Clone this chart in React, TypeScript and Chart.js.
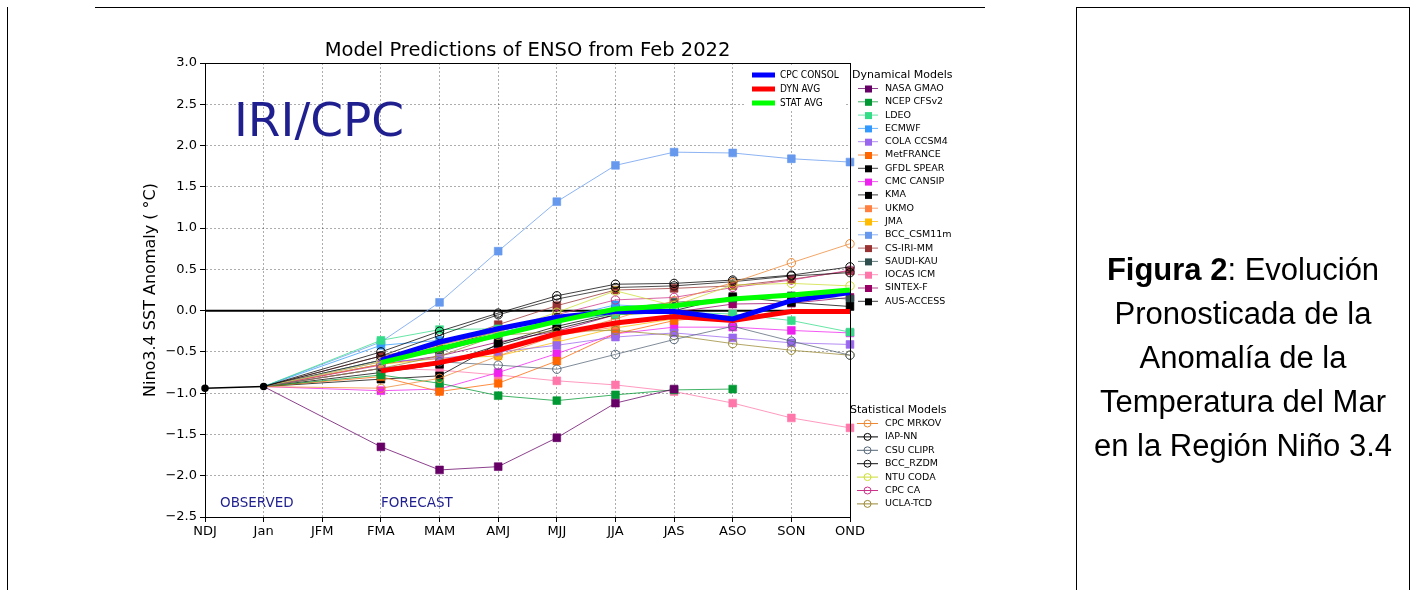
import React, { useEffect, useRef } from 'react';
import { Chart, registerables } from 'chart.js';
Chart.register(...registerables);

// ---------- DATA ----------
const categories = ['NDJ', 'Jan', 'JFM', 'FMA', 'MAM', 'AMJ', 'MJJ', 'JJA', 'JAS', 'ASO', 'SON', 'OND'];
const observedValues = [-0.94, -0.92];
const yMin = -2.5;
const yMax = 3.0;
const yStep = 0.5;

// forecasts FMA .. OND
const nasaGmao = [-1.65, -1.93, -1.89, -1.54, -1.12, -0.95, null, null, null];
const ncepCfsv2 = [-0.78, -0.88, -1.03, -1.09, -1.02, -0.96, -0.95, null, null];
const ldeo = [-0.36, -0.23, -0.22, -0.12, -0.05, -0.02, -0.04, -0.12, -0.26];
const ecmwf = [-0.42, -0.36, -0.27, -0.1, 0.07, 0.03, null, null, null];
const colaCcsm4 = [-0.62, -0.58, -0.5, -0.42, -0.32, -0.27, -0.33, -0.39, -0.41];
const metFrance = [-0.8, -0.98, -0.88, -0.61, -0.28, -0.12, -0.05, null, null];
const gfdlSpear = [-0.83, -0.79, -0.4, -0.19, -0.03, 0.0, 0.17, 0.1, 0.05];
const cmcCansip = [-0.97, -0.95, -0.75, -0.52, -0.28, -0.2, -0.2, -0.24, -0.27];
const kma = [-0.75, -0.65, -0.42, -0.22, -0.05, 0.0, null, null, null];
const ukmo = [-0.7, -0.62, -0.5, -0.3, -0.2, null, null, null, null];
const jma = [-0.65, -0.58, -0.55, -0.38, -0.21, -0.1, null, null, null];
const bccCsm11m = [-0.38, 0.1, 0.72, 1.32, 1.76, 1.92, 1.91, 1.84, 1.8];
const csIriMm = [-0.55, -0.42, -0.17, 0.06, 0.25, 0.27, 0.3, 0.38, 0.48];
const saudiKau = [-0.6, -0.5, -0.3, -0.12, 0.02, 0.1, 0.15, 0.18, 0.14];
const iocasIcm = [-0.7, -0.72, -0.78, -0.85, -0.9, -0.98, -1.12, -1.3, -1.42];
const sintexF = [-0.65, -0.55, -0.38, -0.25, -0.05, -0.02, 0.08, 0.09, 0.16];
const ausAccess = [-0.6, -0.45, -0.25, -0.08, 0.02, 0.05, null, null, null];

const cpcMrkov = [-0.94, -0.82, -0.55, -0.3, -0.1, 0.12, 0.34, 0.58, 0.81];
const iapNn = [-0.5, -0.25, -0.03, 0.18, 0.32, 0.33, 0.37, 0.43, 0.53];
const csuClipr = [-0.7, -0.62, -0.66, -0.71, -0.53, -0.35, -0.19, -0.37, -0.54];
const bccRzdm = [-0.55, -0.3, -0.05, 0.14, 0.28, 0.3, 0.35, 0.42, 0.46];
const ntuCoda = [-0.62, -0.42, -0.26, -0.02, 0.24, 0.06, 0.31, 0.33, 0.3];
const cpcCa = [-0.66, -0.42, -0.25, -0.05, 0.13, 0.16, 0.28, 0.37, 0.49];
const uclaTcd = [-0.7, -0.55, -0.3, -0.25, -0.24, -0.3, -0.4, -0.48, -0.54];

const cpcConsol = [-0.6, -0.38, -0.22, -0.08, -0.01, -0.01, -0.1, 0.12, 0.22];
const dynAvg = [-0.73, -0.63, -0.48, -0.28, -0.15, -0.07, -0.12, -0.01, -0.01];
const statAvg = [-0.63, -0.46, -0.3, -0.13, 0.02, 0.06, 0.14, 0.19, 0.25];

const dynamicalModels = [
  { name: 'NASA GMAO', color: '#660066', values: nasaGmao },
  { name: 'NCEP CFSv2', color: '#009933', values: ncepCfsv2 },
  { name: 'LDEO', color: '#33dd88', values: ldeo },
  { name: 'ECMWF', color: '#3399ff', values: ecmwf },
  { name: 'COLA CCSM4', color: '#9966ee', values: colaCcsm4 },
  { name: 'MetFRANCE', color: '#ff6600', values: metFrance },
  { name: 'GFDL SPEAR', color: '#000000', values: gfdlSpear },
  { name: 'CMC CANSIP', color: '#ee22ee', values: cmcCansip },
  { name: 'KMA', color: '#000000', values: kma },
  { name: 'UKMO', color: '#ff8040', values: ukmo },
  { name: 'JMA', color: '#ffbb00', values: jma },
  { name: 'BCC_CSM11m', color: '#6699ee', values: bccCsm11m },
  { name: 'CS-IRI-MM', color: '#993333', values: csIriMm },
  { name: 'SAUDI-KAU', color: '#2f4f4f', values: saudiKau },
  { name: 'IOCAS ICM', color: '#ff77aa', values: iocasIcm },
  { name: 'SINTEX-F', color: '#990066', values: sintexF },
  { name: 'AUS-ACCESS', color: '#000000', values: ausAccess },
];

const statisticalModels = [
  { name: 'CPC MRKOV', color: '#ee8833', values: cpcMrkov },
  { name: 'IAP-NN', color: '#000000', values: iapNn },
  { name: 'CSU CLIPR', color: '#556677', values: csuClipr },
  { name: 'BCC_RZDM', color: '#111111', values: bccRzdm },
  { name: 'NTU CODA', color: '#ccdd33', values: ntuCoda },
  { name: 'CPC CA', color: '#cc3388', values: cpcCa },
  { name: 'UCLA-TCD', color: '#998833', values: uclaTcd },
];

const averages = [
  { name: 'CPC CONSOL', color: '#0000ff', values: cpcConsol, order: 1 },
  { name: 'DYN AVG', color: '#ff0000', values: dynAvg, order: 2 },
  { name: 'STAT AVG', color: '#00ff00', values: statAvg, order: 0 },
];

// ---------- HELPERS ----------
const FONT = "'DejaVu Sans', 'Noto Sans', sans-serif";
const COND = "'DejaVu Sans Condensed', 'DejaVu Sans', sans-serif";
const NAVY = '#1f1f8f';

function hexToRgba(hex: string, a: number) {
  const n = parseInt(hex.slice(1), 16);
  return `rgba(${(n >> 16) & 255},${(n >> 8) & 255},${n & 255},${a})`;
}

function seriesWithJan(forecast: (number | null)[], withJan: boolean) {
  const arr: (number | null)[] = categories.map(() => null);
  if (withJan) arr[1] = observedValues[1];
  forecast.forEach((v, i) => (arr[3 + i] = v));
  return arr;
}

function modelDataset(m: any, style: 'rect' | 'circle', order: number) {
  const data = seriesWithJan(m.values, true);
  const r = style === 'rect' ? 5.5 : 4.2;
  return {
    label: m.name,
    data,
    borderColor: hexToRgba(m.color, 0.75),
    borderWidth: 1,
    pointStyle: style,
    pointRadius: data.map((_, i) => (i === 1 ? 0 : r)),
    pointBackgroundColor: style === 'rect' ? m.color : 'rgba(0,0,0,0)',
    pointBorderColor: style === 'rect' ? hexToRgba(m.color, 0.6) : m.color,
    pointBorderWidth: 1,
    spanGaps: true,
    tension: 0,
    order,
    segment: {
      borderColor: (ctx: any) => (ctx.p0DataIndex === 1 ? 'rgba(0,0,0,0.85)' : undefined),
      borderDash: (ctx: any) => (ctx.p0DataIndex === 1 ? [2, 2] : undefined),
      borderWidth: (ctx: any) => (ctx.p0DataIndex === 1 ? 0.8 : undefined),
    },
  };
}

function fmtTick(v: number) {
  const s = Math.abs(v).toFixed(1);
  return v < 0 ? '\u2212' + s : s;
}

const decorPlugin = {
  id: 'decor',
  beforeDatasetsDraw(chart: any) {
    const { ctx, chartArea, scales } = chart;
    const y0 = scales.y.getPixelForValue(0);
    ctx.save();
    ctx.strokeStyle = '#000';
    ctx.lineWidth = 2;
    ctx.beginPath();
    ctx.moveTo(chartArea.left, y0);
    ctx.lineTo(chartArea.right, y0);
    ctx.stroke();
    ctx.restore();
  },
  afterDraw(chart: any) {
    const { ctx, chartArea } = chart;
    const { left, right, top, bottom } = chartArea;
    ctx.save();
    // frame
    ctx.strokeStyle = '#000';
    ctx.lineWidth = 1;
    ctx.strokeRect(left + 0.5, top + 0.5, right - left, bottom - top);

    // title
    ctx.fillStyle = '#000';
    ctx.font = `19.5px ${FONT}`;
    ctx.textAlign = 'center';
    ctx.textBaseline = 'middle';
    ctx.fillText('Model Predictions of ENSO from Feb 2022', (left + right) / 2, 51);

    // y-axis title
    ctx.save();
    ctx.translate(151, 290);
    ctx.rotate(-Math.PI / 2);
    ctx.font = `16px ${FONT}`;
    ctx.fillText('Nino3.4 SST Anomaly ( \u00B0C)', 0, 0);
    ctx.restore();

    // IRI/CPC
    ctx.fillStyle = NAVY;
    ctx.textAlign = 'left';
    ctx.font = `47px ${FONT}`;
    ctx.fillText('IRI/CPC', 234, 124);
    ctx.font = `13.5px ${FONT}`;
    ctx.fillText('OBSERVED', 220, 503);
    ctx.fillText('FORECAST', 381, 503);

    // averages legend
    ctx.fillStyle = '#fff';
    ctx.fillRect(746, 67, 100, 43);
    averages.forEach((a, i) => {
      const yy = 75 + i * 14;
      ctx.strokeStyle = a.color;
      ctx.lineWidth = 5;
      ctx.beginPath();
      ctx.moveTo(752, yy);
      ctx.lineTo(775, yy);
      ctx.stroke();
      ctx.fillStyle = '#000';
      ctx.font = `10px ${COND}`;
      ctx.textAlign = 'left';
      ctx.fillText(a.name, 780, yy);
    });

    // dynamical legend
    ctx.fillStyle = '#000';
    ctx.font = `11px ${FONT}`;
    ctx.fillText('Dynamical Models', 852, 75);
    dynamicalModels.forEach((m, i) => {
      const yy = 88.5 + i * 13.3;
      ctx.strokeStyle = hexToRgba(m.color, 0.75);
      ctx.lineWidth = 1;
      ctx.beginPath();
      ctx.moveTo(858, yy);
      ctx.lineTo(878, yy);
      ctx.stroke();
      ctx.fillStyle = m.color;
      ctx.fillRect(865, yy - 3, 7, 7);
      ctx.fillStyle = '#000';
      ctx.font = `9.5px ${FONT}`;
      ctx.fillText(m.name, 885, yy);
    });

    // statistical legend
    ctx.font = `11px ${FONT}`;
    ctx.fillText('Statistical Models', 850, 410);
    statisticalModels.forEach((m, i) => {
      const yy = 423.5 + i * 13.4;
      ctx.strokeStyle = m.color;
      ctx.lineWidth = 1;
      ctx.beginPath();
      ctx.moveTo(857, yy);
      ctx.lineTo(878, yy);
      ctx.stroke();
      ctx.beginPath();
      ctx.arc(867.5, yy, 3.5, 0, Math.PI * 2);
      ctx.stroke();
      ctx.fillStyle = '#000';
      ctx.font = `9.5px ${FONT}`;
      ctx.fillText(m.name, 885, yy);
    });
    ctx.restore();
  },
};

export default function App() {
  const ref = useRef<HTMLCanvasElement | null>(null);
  useEffect(() => {
    if (!ref.current) return;
    const datasets: any[] = [];
    averages.forEach((a) => {
      datasets.push({
        label: a.name,
        data: seriesWithJan(a.values, false),
        borderColor: a.color,
        borderWidth: 5,
        pointRadius: 0,
        spanGaps: true,
        order: a.order,
      });
    });
    datasets.push({
      label: 'Observed',
      data: categories.map((_, i) => (i < observedValues.length ? observedValues[i] : null)),
      borderColor: '#000',
      borderWidth: 1.5,
      pointRadius: 3,
      pointStyle: 'circle',
      pointBackgroundColor: '#000',
      pointBorderColor: '#000',
      order: 3,
    });
    statisticalModels.forEach((m, i) => datasets.push(modelDataset(m, 'circle', 10 + i)));
    dynamicalModels.forEach((m, i) => datasets.push(modelDataset(m, 'rect', 20 + i)));

    const chart = new Chart(ref.current, {
      type: 'line',
      data: { labels: categories, datasets },
      options: {
        animation: false,
        responsive: false,
        devicePixelRatio: 1,
        events: [],
        layout: { padding: { left: 145, top: 63, right: 567, bottom: 43 } },
        plugins: { legend: { display: false }, tooltip: { enabled: false }, title: { display: false } },
        scales: {
          x: {
            type: 'category',
            offset: false,
            afterFit: (s: any) => {
              s.height = 30;
            },
            grid: {
              color: 'rgba(0,0,0,0.32)',
              tickColor: '#000',
              tickLength: 5,
              offset: false,
            },
            border: { display: true, color: '#000', dash: [2, 2] },
            ticks: {
              color: '#000',
              font: { family: FONT, size: 13 },
              maxRotation: 0,
              autoSkip: false,
              padding: 2,
            },
          },
          y: {
            min: yMin,
            max: yMax,
            afterFit: (s: any) => {
              s.width = 60;
            },
            grid: {
              color: 'rgba(0,0,0,0.32)',
              tickColor: '#000',
              tickLength: 5,
            },
            border: { display: true, color: '#000', dash: [2, 2] },
            ticks: {
              stepSize: yStep,
              color: '#000',
              font: { family: FONT, size: 13 },
              padding: 3,
              callback: (v: any) => fmtTick(Number(v)),
            },
          },
        },
      },
      plugins: [decorPlugin],
    });
    return () => chart.destroy();
  }, []);

  const line = (style: React.CSSProperties) => (
    <div style={{ position: 'absolute', background: '#000', ...style }} />
  );

  return (
    <div style={{ position: 'absolute', left: 0, top: 0, width: 1417, height: 590, background: '#fff', overflow: 'hidden' }}>
      <canvas ref={ref} width={1417} height={590} style={{ position: 'absolute', left: 0, top: 0, width: 1417, height: 590 }} />
      {line({ left: 95, top: 7, width: 890, height: 1 })}
      {line({ left: 1076, top: 7, width: 334, height: 1 })}
      {line({ left: 7, top: 7, width: 1, height: 583 })}
      {line({ left: 1076, top: 7, width: 1, height: 583 })}
      {line({ left: 1409, top: 7, width: 1, height: 583 })}
      <div
        style={{
          position: 'absolute',
          left: 1077,
          top: 248,
          width: 332,
          textAlign: 'center',
          fontFamily: "'Liberation Sans', Arial, sans-serif",
          fontSize: 31,
          lineHeight: '44px',
          color: '#000',
        }}
      >
        <b>Figura 2</b>: Evolución
        <br />
        Pronosticada de la
        <br />
        Anomalía de la
        <br />
        Temperatura del Mar
        <br />
        en la Región Niño 3.4
      </div>
    </div>
  );
}
